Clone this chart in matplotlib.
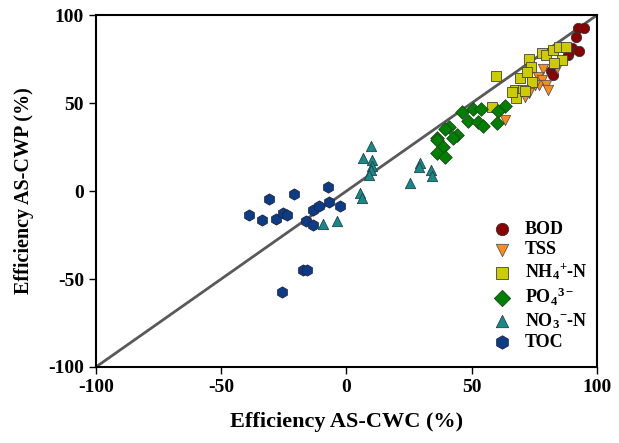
import numpy as np
import matplotlib.pyplot as plt

# ---- data (x = AS-CWC, y = AS-CWP) ----
bod_x = [92.3, 94.9, 91.6, 89.9, 92.8, 88.3, 88.9, 81.6, 82.6]
bod_y = [92.4, 92.8, 87.3, 81.1, 79.5, 77.3, 79.1, 68.2, 65.9]

tss_x = [78.3, 83.9, 76.6, 77.9, 77.0, 79.5, 80.6, 72.6, 71.3, 73.0, 63.3, 75.2]
tss_y = [69.1, 69.7, 65.0, 63.0, 60.2, 60.2, 57.4, 65.9, 53.6, 55.5, 40.3, 60.2]

nh4_x = [59.7, 72.9, 73.5, 69.3, 71.9, 78.2, 79.6, 82.3, 84.8, 87.5, 85.9, 82.8,
         74.2, 67.3, 70.6, 67.5, 66.0, 58.0, 71.3]
nh4_y = [65.3, 74.8, 70.6, 64.4, 67.8, 78.2, 77.3, 80.1, 81.6, 81.6, 74.4, 72.9,
         62.1, 57.4, 57.4, 52.7, 56.0, 47.7, 56.8]

po4_x = [63.3, 60.4, 50.6, 53.7, 46.0, 48.6, 52.6, 54.6, 60.2, 41.0, 39.3, 44.0,
         42.6, 36.0, 36.2, 38.4, 36.0, 39.3]
po4_y = [48.5, 45.5, 46.4, 46.4, 44.7, 40.0, 39.0, 37.1, 38.8, 36.5, 35.2, 31.8,
         29.9, 29.9, 29.0, 25.2, 21.4, 19.5]

no3_x = [9.7, 6.5, 10.0, 10.0, 9.7, 9.1, 29.3, 29.1, 33.6, 34.0, 25.3, -9.5, -3.9, 5.4, 6.1]
no3_y = [25.7, 18.6, 17.6, 14.4, 11.9, 9.1, 15.7, 13.8, 11.9, 8.7, 4.4, -18.9, -17.0, -1.3, -4.1]

toc_x = [-38.9, -33.9, -30.8, -28.3, -25.5, -23.6, -20.8, -16.2, -13.3, -13.3, -10.9,
         -6.9, -7.5, -2.6, -17.2, -15.9, -25.9]
toc_y = [-13.6, -16.5, -4.7, -16.1, -12.7, -13.6, -1.9, -17.0, -19.3, -10.8, -8.5,
         -6.1, 2.4, -8.5, -44.9, -44.9, -57.2]

ticks = [-100, -50, 0, 50, 100]

plt.rcParams['font.family'] = ['Liberation Serif', 'DejaVu Serif']
plt.rcParams['font.weight'] = 'bold'
plt.rcParams['axes.unicode_minus'] = False
plt.rcParams['mathtext.fontset'] = 'custom'
plt.rcParams['mathtext.rm'] = 'Liberation Serif:bold'
plt.rcParams['mathtext.bf'] = 'Liberation Serif:bold'
plt.rcParams['mathtext.it'] = 'Liberation Serif:bold'
plt.rcParams['mathtext.default'] = 'bf'

fig = plt.figure(figsize=(6.19, 4.43), dpi=100)
ax = fig.add_axes([0.155, 0.1716, 0.8095, 0.7944])

# 1:1 line
ax.plot([-100, 100], [-100, 100], color="#595959", linewidth=2, zorder=1)

sz = 55
ax.scatter(bod_x, bod_y, marker="o", s=sz, color="#8B0000", edgecolor="#333333", linewidth=0.6, label="BOD", zorder=3)
ax.scatter(tss_x, tss_y, marker="v", s=sz, color="#FF8C1A", edgecolor="#555555", linewidth=0.6, label="TSS", zorder=3)
ax.scatter(nh4_x, nh4_y, marker="s", s=sz, color="#CCCC00", edgecolor="#444444", linewidth=0.6, label="NH$_4$$^{+}$-N", zorder=3)
ax.scatter(po4_x, po4_y, marker="D", s=48, color="#008000", edgecolor="#224422", linewidth=0.6, label="PO$_4$$^{3-}$", zorder=3)
ax.scatter(no3_x, no3_y, marker="^", s=sz, color="#168A8A", edgecolor="#224444", linewidth=0.6, label="NO$_3$$^{-}$-N", zorder=3)
ax.scatter(toc_x, toc_y, marker="h", s=65, color="#0B3C85", edgecolor="#222244", linewidth=0.6, label="TOC", zorder=3)

ax.set_xlim(-100, 100)
ax.set_ylim(-100, 100)
ax.set_xticks(ticks)
ax.set_yticks(ticks)
ax.tick_params(direction="out", length=5, width=1, labelsize=14)
for lab in ax.get_xticklabels() + ax.get_yticklabels():
    lab.set_fontweight("bold")
for s in ax.spines.values():
    s.set_linewidth(1.5)

ax.set_xlabel("Efficiency AS-CWC (%)", fontsize=16, fontweight="bold", labelpad=12)
ax.set_ylabel("Efficiency AS-CWP (%)", fontsize=14.5, fontweight="bold", labelpad=10)

ax.legend(loc="lower right", frameon=False, handletextpad=0.25, markerscale=1.2,
          labelspacing=0.18, borderaxespad=0.0, bbox_to_anchor=(0.995, 0.025),
          prop={"weight": "bold", "size": 13})

fig.savefig("out.png", dpi=100)
